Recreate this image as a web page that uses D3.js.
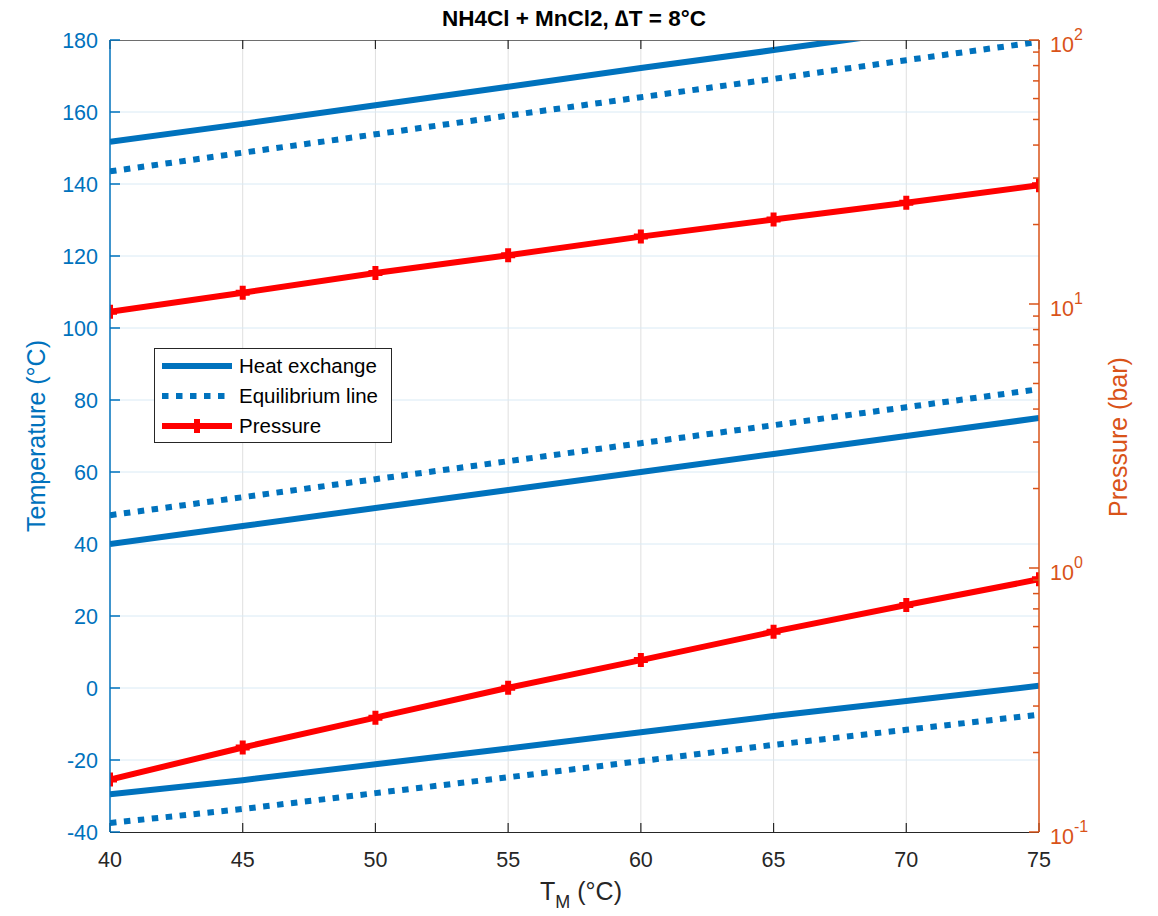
<!DOCTYPE html>
<html>
<head>
<meta charset="utf-8">
<script src="https://cdn.jsdelivr.net/npm/d3@7/dist/d3.min.js"></script>
<style>
  html, body { margin: 0; padding: 0; background: #fff; }
  svg { display: block; font-family: Arial, "Liberation Sans", Helvetica, sans-serif; }
</style>
</head>
<body>
<svg id="chart" width="1158" height="916"></svg>
<script>
// ---- data ----
const TM = [40, 45, 50, 55, 60, 65, 70, 75];
const heatHigh = [151.7, 156.7, 161.9, 167.0, 172.2, 177.2, 182.3, 187.4];
const eqHigh   = [143.5, 148.7, 153.8, 159.0, 164.1, 169.2, 174.4, 179.5];
const heatMid  = [40, 45, 50, 55, 60, 65, 70, 75];
const eqMid    = [48, 53, 58, 63, 68, 73, 78, 83];
const heatLow  = [-29.5, -25.6, -21.2, -16.8, -12.3, -7.8, -3.6, 0.6];
const eqLow    = [-37.5, -33.6, -29.2, -24.8, -20.3, -15.8, -11.6, -7.4];
const pHigh    = [9.35, 11.04, 13.1, 15.3, 18.0, 20.9, 24.2, 28.2];
const pLow     = [0.158, 0.209, 0.271, 0.352, 0.448, 0.574, 0.724, 0.906];

const xTicks = [40, 45, 50, 55, 60, 65, 70, 75];
const yLeftTicks = [-40, -20, 0, 20, 40, 60, 80, 100, 120, 140, 160, 180];
const yRightMajor = [{v: 0.1, e: "-1"}, {v: 1, e: "0"}, {v: 10, e: "1"}, {v: 100, e: "2"}];
const legendLabels = ["Heat exchange", "Equilibrium line", "Pressure"];
const titleText = "NH4Cl + MnCl2, \u2206T = 8\u00B0C";

// ---- layout ----
const L = 110, R = 1039, T = 40, B = 832;
const BLUE = "#0072BD", ORANGE = "#D95319", RED = "#FF0000", DARK = "#262626";
const LW = 6;
const TICKFS = 21.5;

const svg = d3.select("#chart");
const x = d3.scaleLinear().domain([40, 75]).range([L, R]);
const yL = d3.scaleLinear().domain([-40, 180]).range([B, T]);
const yR = d3.scaleLog().domain([0.1, 100]).range([B, T]);

svg.append("defs").append("clipPath").attr("id", "plotclip")
  .append("rect").attr("x", L).attr("y", T).attr("width", R - L).attr("height", B - T);

// grid
const grid = svg.append("g");
grid.selectAll(".gx").data(xTicks.slice(1, -1)).enter().append("line")
  .attr("x1", d => x(d)).attr("x2", d => x(d)).attr("y1", T).attr("y2", B)
  .attr("stroke", "#dfdfdf").attr("stroke-width", 1);
grid.selectAll(".gy").data(yLeftTicks.slice(1, -1)).enter().append("line")
  .attr("x1", L).attr("x2", R).attr("y1", d => yL(d)).attr("y2", d => yL(d))
  .attr("stroke", "#d9eaf5").attr("stroke-width", 1);

// lines
const plot = svg.append("g").attr("clip-path", "url(#plotclip)");
const lineL = d3.line().x((d, i) => x(TM[i])).y(d => yL(d));
const lineR = d3.line().x((d, i) => x(TM[i])).y(d => yR(d));

function drawSeries(arr, gen, color, dash) {
  plot.append("path").datum(arr).attr("d", gen)
    .attr("fill", "none").attr("stroke", color).attr("stroke-width", LW)
    .attr("stroke-dasharray", dash || null).attr("stroke-linecap", "butt")
    .attr("stroke-linejoin", "round");
}
drawSeries(heatHigh, lineL, BLUE);
drawSeries(eqHigh, lineL, BLUE, "6.5,7.5");
drawSeries(heatMid, lineL, BLUE);
drawSeries(eqMid, lineL, BLUE, "6.5,7.5");
drawSeries(heatLow, lineL, BLUE);
drawSeries(eqLow, lineL, BLUE, "6.5,7.5");
drawSeries(pHigh, lineR, RED);
drawSeries(pLow, lineR, RED);

function plusMarker(g, cx, cy, s) {
  g.append("path").attr("d", `M${cx - s},${cy}H${cx + s}M${cx},${cy - s}V${cy + s}`)
    .attr("stroke", RED).attr("stroke-width", 6).attr("fill", "none");
}
[pHigh, pLow].forEach(arr => {
  arr.forEach((v, i) => plusMarker(plot, x(TM[i]), yR(v), 7));
});

// axes
const ax = svg.append("g");
ax.append("line").attr("x1", L).attr("x2", R).attr("y1", T + 0.5).attr("y2", T + 0.5)
  .attr("stroke", "#6e6e6e").attr("stroke-width", 1.2);
ax.append("line").attr("x1", L).attr("x2", R).attr("y1", B + 0.5).attr("y2", B + 0.5)
  .attr("stroke", DARK).attr("stroke-width", 1.2);
xTicks.forEach(t => {
  ax.append("line").attr("x1", x(t)).attr("x2", x(t)).attr("y1", B).attr("y2", B - 9)
    .attr("stroke", DARK).attr("stroke-width", 1.2);
  ax.append("line").attr("x1", x(t)).attr("x2", x(t)).attr("y1", T).attr("y2", T + 9)
    .attr("stroke", DARK).attr("stroke-width", 1.2);
  ax.append("text").attr("x", x(t)).attr("y", B + 35).attr("text-anchor", "middle")
    .attr("font-size", TICKFS).attr("fill", DARK).text(t);
});
// left axis
ax.append("line").attr("x1", L).attr("x2", L).attr("y1", T).attr("y2", B)
  .attr("stroke", BLUE).attr("stroke-width", 1.5);
yLeftTicks.forEach(t => {
  ax.append("line").attr("x1", L).attr("x2", L + 10).attr("y1", yL(t)).attr("y2", yL(t))
    .attr("stroke", BLUE).attr("stroke-width", 1.5);
  ax.append("text").attr("x", 98).attr("y", yL(t)).attr("dy", "0.36em")
    .attr("text-anchor", "end").attr("font-size", TICKFS).attr("fill", BLUE).text(t);
});
// right axis (log)
ax.append("line").attr("x1", R).attr("x2", R).attr("y1", T).attr("y2", B)
  .attr("stroke", ORANGE).attr("stroke-width", 1.5);
const minor = [];
[0.1, 1, 10].forEach(dec => { for (let k = 2; k <= 9; k++) minor.push(dec * k); });
minor.forEach(v => {
  ax.append("line").attr("x1", R).attr("x2", R - 6).attr("y1", yR(v)).attr("y2", yR(v))
    .attr("stroke", ORANGE).attr("stroke-width", 1.5);
});
yRightMajor.forEach(m => {
  ax.append("line").attr("x1", R).attr("x2", R - 10).attr("y1", yR(m.v)).attr("y2", yR(m.v))
    .attr("stroke", ORANGE).attr("stroke-width", 1.5);
  const tx = ax.append("text").attr("x", 1050).attr("y", yR(m.v) + 12)
    .attr("font-size", TICKFS).attr("fill", ORANGE);
  tx.append("tspan").text("10");
  tx.append("tspan").attr("font-size", 16).attr("dy", -12).text(m.e);
});

// labels
svg.append("text").attr("x", 574).attr("y", 26).attr("text-anchor", "middle")
  .attr("font-size", 22.5).attr("font-weight", "bold").attr("fill", "#000").text(titleText);
const xl = svg.append("text").attr("x", 581).attr("y", 900).attr("text-anchor", "middle")
  .attr("font-size", 25).attr("fill", DARK);
xl.append("tspan").text("T");
xl.append("tspan").attr("font-size", 18).attr("dy", 8).text("M");
xl.append("tspan").attr("dy", -8).text(" (\u00B0C)");
svg.append("text").attr("transform", "translate(45,436) rotate(-90)")
  .attr("text-anchor", "middle").attr("font-size", 25).attr("fill", BLUE).text("Temperature (\u00B0C)");
svg.append("text").attr("transform", "translate(1127,437) rotate(-90)")
  .attr("text-anchor", "middle").attr("font-size", 25).attr("fill", ORANGE).text("Pressure (bar)");

// legend
const lg = svg.append("g");
lg.append("rect").attr("x", 154.5).attr("y", 348.5).attr("width", 237).attr("height", 94)
  .attr("fill", "#fff").attr("stroke", DARK).attr("stroke-width", 1);
const legY = [366, 396, 426];
const legStyles = [{c: BLUE, d: null, m: false}, {c: BLUE, d: "6.5,7.5", m: false}, {c: RED, d: null, m: true}];
legendLabels.forEach((lab, i) => {
  lg.append("line").attr("x1", 162).attr("x2", 232).attr("y1", legY[i]).attr("y2", legY[i])
    .attr("stroke", legStyles[i].c).attr("stroke-width", LW).attr("stroke-dasharray", legStyles[i].d);
  if (legStyles[i].m) plusMarker(lg, 197, legY[i], 7);
  lg.append("text").attr("x", 239).attr("y", legY[i]).attr("dy", "0.36em")
    .attr("font-size", 20.5).attr("fill", "#000").text(lab);
});
</script>
</body>
</html>
